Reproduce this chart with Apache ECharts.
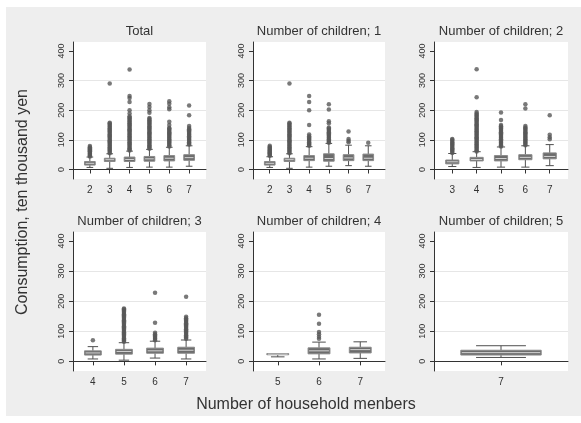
<!DOCTYPE html>
<html>
<head>
<meta charset="utf-8">
<script src="https://cdn.jsdelivr.net/npm/echarts@6/dist/echarts.min.js"></script>
<style>
html, body { margin: 0; padding: 0; background: #fff; }
#chart { width: 581px; height: 423px; }
</style>
</head>
<body>
<div id="chart"></div>
<script>
// panel titles
const panelTitles = ['Total', 'Number of children; 1', 'Number of children; 2',
  'Number of children; 3', 'Number of children; 4', 'Number of children; 5']

// household members shown in each panel
const catsTotal = [2, 3, 4, 5, 6, 7]
const catsCh1 = [2, 3, 4, 5, 6, 7]
const catsCh2 = [3, 4, 5, 6, 7]
const catsCh3 = [4, 5, 6, 7]
const catsCh4 = [5, 6, 7]
const catsCh5 = [7]

// box stats: [lower whisker, q1, median, q3, upper whisker]
const boxTotal = [[7, 15, 21, 27, 42], [4, 27, 33, 38, 53], [7, 27, 34, 42, 62],
  [8, 28, 36, 44, 68], [8, 29, 38, 47, 75], [11, 31, 40, 50, 80]]
const boxCh1 = [[7, 15, 21, 27, 43], [4, 27, 33, 38, 53], [8, 30, 38, 47, 77],
  [11, 28, 37, 53, 88], [13, 30, 39, 50, 82], [11, 30, 38, 52, 80]]
const boxCh2 = [[10, 19, 26, 32, 54], [7, 29, 34, 41, 60], [8, 29, 37, 47, 76],
  [8, 33, 41, 50, 80], [13, 36, 44, 56, 84]]
const boxCh3 = [[8, 21, 28, 35, 49], [4, 24, 33, 40, 62], [11, 27, 35, 44, 67],
  [8, 27, 37, 47, 71]]
const boxCh4 = [[15, 22, 24, 26, 26], [8, 25, 35, 45, 64], [10, 28, 39, 47, 65]]
const boxCh5 = [[13, 21, 29, 37, 52]]

// outside values per category
const outTotal = [
  [44, 47, 50, 53, 56, 59, 62, 65, 68, 72, 75, 79],
  [55, 59, 63, 67, 71, 75, 79, 83, 87, 91, 95, 99, 103, 107, 111, 115, 119, 123, 127, 131, 135, 139, 143, 147, 151, 155, 158, 290],
  [64, 68, 72, 76, 80, 84, 88, 92, 96, 100, 104, 108, 112, 116, 120, 124, 128, 132, 136, 140, 144, 148, 152, 156, 160, 164, 168, 172, 175, 180, 189, 200, 228, 241, 248, 337],
  [70, 74, 78, 82, 86, 90, 94, 98, 102, 106, 110, 114, 118, 122, 126, 130, 134, 138, 142, 146, 150, 154, 158, 162, 166, 170, 174, 191, 200, 211, 221],
  [78, 82, 86, 90, 94, 98, 102, 106, 110, 114, 118, 122, 126, 130, 134, 138, 140, 150, 161, 203, 210, 222, 230],
  [84, 88, 92, 96, 100, 104, 108, 112, 116, 120, 124, 128, 132, 136, 140, 147, 183, 216]
]
const outCh1 = [
  [46, 49, 52, 55, 58, 61, 64, 67, 70, 73, 76, 80],
  [55, 59, 63, 67, 71, 75, 79, 83, 87, 91, 95, 99, 103, 107, 111, 115, 119, 123, 127, 131, 135, 139, 143, 147, 151, 155, 158, 290],
  [80, 84, 88, 92, 96, 100, 104, 108, 112, 118, 150, 200, 228, 248],
  [90, 94, 98, 102, 106, 110, 114, 118, 122, 126, 130, 134, 138, 142, 156, 163, 202, 220],
  [92, 97, 103, 128],
  [90]
]
const outCh2 = [
  [56, 60, 64, 68, 72, 76, 80, 84, 88, 92, 96, 100, 103],
  [61, 65, 69, 73, 77, 81, 85, 89, 93, 97, 101, 105, 109, 113, 117, 121, 125, 129, 133, 137, 141, 145, 149, 153, 157, 161, 165, 169, 173, 177, 181, 185, 189, 194, 244, 338],
  [78, 82, 86, 90, 94, 98, 102, 106, 110, 114, 118, 122, 126, 130, 134, 138, 142, 146, 150, 167, 192],
  [82, 86, 90, 94, 98, 102, 106, 110, 114, 118, 122, 126, 130, 134, 138, 142, 147, 206, 220],
  [102, 109, 117, 183]
]
const outCh3 = [
  [70],
  [65, 69, 73, 77, 81, 85, 89, 93, 97, 101, 105, 109, 113, 117, 121, 125, 129, 133, 137, 141, 145, 149, 153, 157, 161, 165, 169, 173, 176],
  [70, 74, 78, 82, 86, 90, 95, 128, 228],
  [75, 79, 83, 87, 91, 95, 99, 103, 107, 111, 115, 119, 123, 127, 131, 135, 139, 143, 148, 215]
]
const outCh4 = [[], [75, 82, 90, 98, 125, 155], []]
const outCh5 = [[]]

// y axis tick labels
const yTicks = [0, 100, 200, 300, 400]

const panelData = [
  { cats: catsTotal, box: boxTotal, out: outTotal },
  { cats: catsCh1, box: boxCh1, out: outCh1 },
  { cats: catsCh2, box: boxCh2, out: outCh2 },
  { cats: catsCh3, box: boxCh3, out: outCh3 },
  { cats: catsCh4, box: boxCh4, out: outCh4 },
  { cats: catsCh5, box: boxCh5, out: outCh5 }
]

// layout of each panel (pixels and axis range)
const layout = [
  { left: 73, top: 42, width: 133, height: 137, xmin: 1.15, xmax: 7.85, bw: 0.54 },
  { left: 253, top: 42, width: 132, height: 137, xmin: 1.15, xmax: 7.85, bw: 0.54 },
  { left: 434, top: 42, width: 134, height: 137, xmin: 2.25, xmax: 7.75, bw: 0.54 },
  { left: 73, top: 232, width: 133, height: 139, xmin: 3.36, xmax: 7.64, bw: 0.54 },
  { left: 253, top: 232, width: 132, height: 139, xmin: 4.4, xmax: 7.6, bw: 0.53 },
  { left: 434, top: 232, width: 134, height: 139, xmin: 6.5, xmax: 7.5, bw: 0.6 }
]

const FONT = 'Liberation Sans, Arial, sans-serif'

const makeRender = (bwUnits) => (params, api) => {
  const x = api.value(0)
  const lo = api.coord([x, api.value(1)])
  const q1 = api.coord([x, api.value(2)])
  const md = api.coord([x, api.value(3)])
  const q3 = api.coord([x, api.value(4)])
  const hi = api.coord([x, api.value(5)])
  const bw = api.size([bwUnits, 0])[0]
  const cw = bw * 0.62
  const cx = lo[0]
  const whisk = { stroke: '#4f4f4f', lineWidth: 1 }
  return {
    type: 'group',
    children: [
      { type: 'line', shape: { x1: cx, y1: lo[1], x2: cx, y2: q1[1] }, style: whisk },
      { type: 'line', shape: { x1: cx, y1: q3[1], x2: cx, y2: hi[1] }, style: whisk },
      { type: 'line', shape: { x1: cx - cw / 2, y1: lo[1], x2: cx + cw / 2, y2: lo[1] }, style: whisk },
      { type: 'line', shape: { x1: cx - cw / 2, y1: hi[1], x2: cx + cw / 2, y2: hi[1] }, style: whisk },
      { type: 'rect', shape: { x: cx - bw / 2, y: q3[1], width: bw, height: Math.max(q1[1] - q3[1], 1) },
        style: { fill: '#6c6c6c', stroke: '#8a8a8a', lineWidth: 1 } },
      { type: 'line', shape: { x1: cx - bw / 2 + 1, y1: md[1], x2: cx + bw / 2 - 1, y2: md[1] },
        style: { stroke: '#d6d6d6', lineWidth: 1 } }
    ]
  }
}

const grid = [], xAxis = [], yAxis = [], series = [], graphic = []

graphic.push({ type: 'rect', z: -10, shape: { x: 6, y: 7, width: 575, height: 409 },
  style: { fill: '#eeeeee' } })

layout.forEach((L, i) => {
  const P = panelData[i]
  grid.push({ left: L.left, top: L.top, width: L.width, height: L.height,
    backgroundColor: '#fff', show: true, borderWidth: 0 })
  xAxis.push({
    type: 'value', gridIndex: i, min: L.xmin, max: L.xmax,
    splitLine: { show: false },
    axisLine: { lineStyle: { color: '#333', width: 1 } },
    axisTick: { customValues: P.cats, length: 4, lineStyle: { color: '#333' } },
    axisLabel: { customValues: P.cats, color: '#333', fontSize: 10, fontFamily: FONT, margin: 6 }
  })
  yAxis.push({
    type: 'value', gridIndex: i, min: -32, max: 430,
    axisLine: { show: true, lineStyle: { color: '#333', width: 1 } },
    axisTick: { show: true, customValues: yTicks, length: 4, lineStyle: { color: '#333' } },
    axisLabel: { customValues: yTicks, rotate: 90, color: '#333', fontSize: 9, fontFamily: FONT, margin: 7 },
    splitLine: { show: true, showMinLine: false, showMaxLine: false,
      lineStyle: { color: '#e6e6e6', width: 1 } }
  })
  series.push({
    type: 'custom', xAxisIndex: i, yAxisIndex: i,
    renderItem: makeRender(L.bw),
    encode: { x: 0, y: [1, 2, 3, 4, 5] },
    data: P.cats.map((c, k) => [c].concat(P.box[k])),
    z: 2
  })
  const pts = []
  P.cats.forEach((c, k) => P.out[k].forEach(v => pts.push([c, v])))
  series.push({
    type: 'scatter', xAxisIndex: i, yAxisIndex: i,
    symbol: 'circle', symbolSize: 4.5,
    itemStyle: { color: '#585858' },
    data: pts, z: 3
  })
  graphic.push({
    type: 'text', x: L.left + L.width / 2, y: L.top - 11,
    style: { text: panelTitles[i], fill: '#333', font: '13px ' + FONT,
      align: 'center', verticalAlign: 'middle' }
  })
})

graphic.push({
  type: 'text', x: 23, y: 202, rotation: Math.PI / 2,
  style: { text: 'Consumption, ten thousand yen', fill: '#333', font: '16px ' + FONT,
    align: 'center', verticalAlign: 'middle' }
})
graphic.push({
  type: 'text', x: 306, y: 405,
  style: { text: 'Number of household menbers', fill: '#333', font: '16px ' + FONT,
    align: 'center', verticalAlign: 'middle' }
})

const chart = echarts.init(document.getElementById('chart'))
chart.setOption({
  animation: false,
  backgroundColor: '#fff',
  grid, xAxis, yAxis, series, graphic
})
</script>
</body>
</html>
